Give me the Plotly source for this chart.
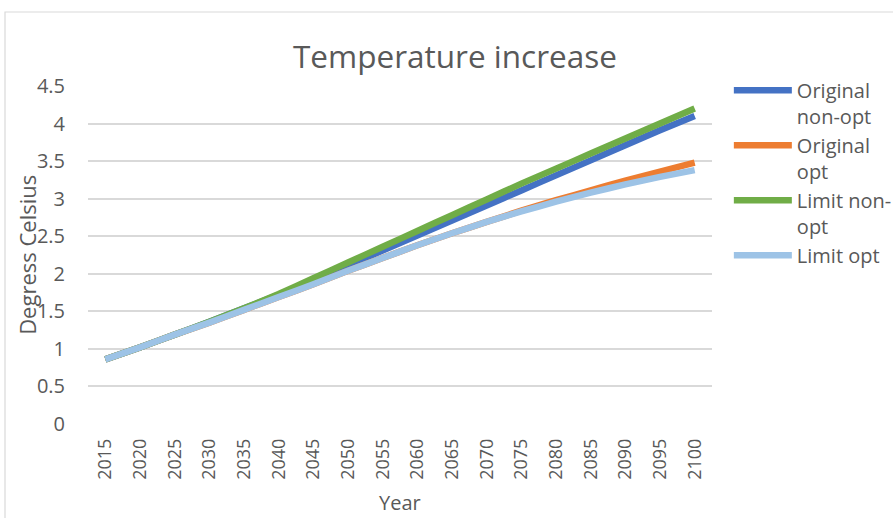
import plotly.graph_objects as go

# Years on the category axis (5-year steps)
years = [str(y) for y in range(2015, 2101, 5)]

# Temperature increase in degrees Celsius per scenario
original_non_opt = [0.86, 1.02, 1.19, 1.36, 1.54, 1.72, 1.91, 2.11, 2.31, 2.51,
                    2.71, 2.91, 3.11, 3.31, 3.51, 3.71, 3.91, 4.10]
original_opt = [0.86, 1.02, 1.19, 1.35, 1.52, 1.69, 1.86, 2.04, 2.21, 2.38,
                2.54, 2.69, 2.84, 2.98, 3.11, 3.24, 3.36, 3.48]
limit_non_opt = [0.86, 1.02, 1.19, 1.36, 1.54, 1.73, 1.94, 2.15, 2.36, 2.57,
                 2.78, 2.99, 3.20, 3.40, 3.60, 3.80, 4.00, 4.20]
limit_opt = [0.86, 1.02, 1.19, 1.35, 1.52, 1.69, 1.86, 2.04, 2.21, 2.38,
             2.54, 2.69, 2.83, 2.96, 3.08, 3.19, 3.29, 3.38]

series_names = ["Original<br>non-opt", "Original<br>opt", "Limit non-<br>opt", "Limit opt"]
y_ticks = [0, 0.5, 1, 1.5, 2, 2.5, 3, 3.5, 4, 4.5]
y_tick_labels = ["0", "0.5", "1", "1.5", "2", "2.5", "3", "3.5", "4", "4.5"]

colors = ["#4472C4", "#ED7D31", "#70AD47", "#9DC3E6"]
text_color = "#595959"
grid_color = "#D9D9D9"
font_family = "Open Sans, Liberation Sans, sans-serif"

fig = go.Figure()
for name, vals, col in zip(series_names,
                           [original_non_opt, original_opt, limit_non_opt, limit_opt],
                           colors):
    fig.add_trace(go.Scatter(
        x=years, y=vals, name=name, mode="lines",
        line=dict(color=col, width=6.5, shape="spline", smoothing=0.4),
    ))

fig.update_layout(
    width=893, height=518,
    margin=dict(l=88, r=181, t=86, b=94, autoexpand=False),
    paper_bgcolor="white", plot_bgcolor="white",
    font=dict(family=font_family, color=text_color, size=18),
    showlegend=True,
    legend=dict(
        x=1.027, y=1.045, xanchor="left", yanchor="top", valign="top",
        font=dict(size=20, color=text_color),
        itemwidth=58, tracegroupgap=0,
        bgcolor="rgba(0,0,0,0)",
    ),
    xaxis=dict(
        type="category", range=[-0.5, 17.5], tickangle=-90,
        showgrid=False, showline=False, zeroline=False, ticks="",
        tickfont=dict(size=18, color=text_color), ticklabelstandoff=10,
        fixedrange=True,
    ),
    yaxis=dict(
        range=[0, 4.5], tickvals=y_ticks, ticktext=y_tick_labels,
        showgrid=True, gridcolor=grid_color, gridwidth=1.5,
        zeroline=False, showline=False, ticks="",
        tickfont=dict(size=20, color=text_color), ticklabelstandoff=22,
        fixedrange=True,
    ),
    annotations=[
        dict(text="Temperature increase", xref="paper", yref="paper",
             x=0.588, y=1.09, xanchor="center", yanchor="middle",
             showarrow=False, font=dict(size=31.5, color=text_color)),
        dict(text="Degress Celsius", xref="paper", yref="paper",
             x=-0.098, y=0.5, xanchor="center", yanchor="middle", textangle=-90,
             showarrow=False, font=dict(size=22, color=text_color)),
        dict(text="Year", xref="paper", yref="paper",
             x=0.5, y=-0.232, xanchor="center", yanchor="middle",
             showarrow=False, font=dict(size=20, color=text_color)),
    ],
    shapes=[
        dict(type="rect", xref="paper", yref="paper",
             x0=-0.133, x1=1.6, y0=-0.6, y1=1.219,
             line=dict(color=grid_color, width=1.2), fillcolor="rgba(0,0,0,0)",
             layer="below"),
    ],
)

fig.write_html("out.html", config={"displayModeBar": False})
